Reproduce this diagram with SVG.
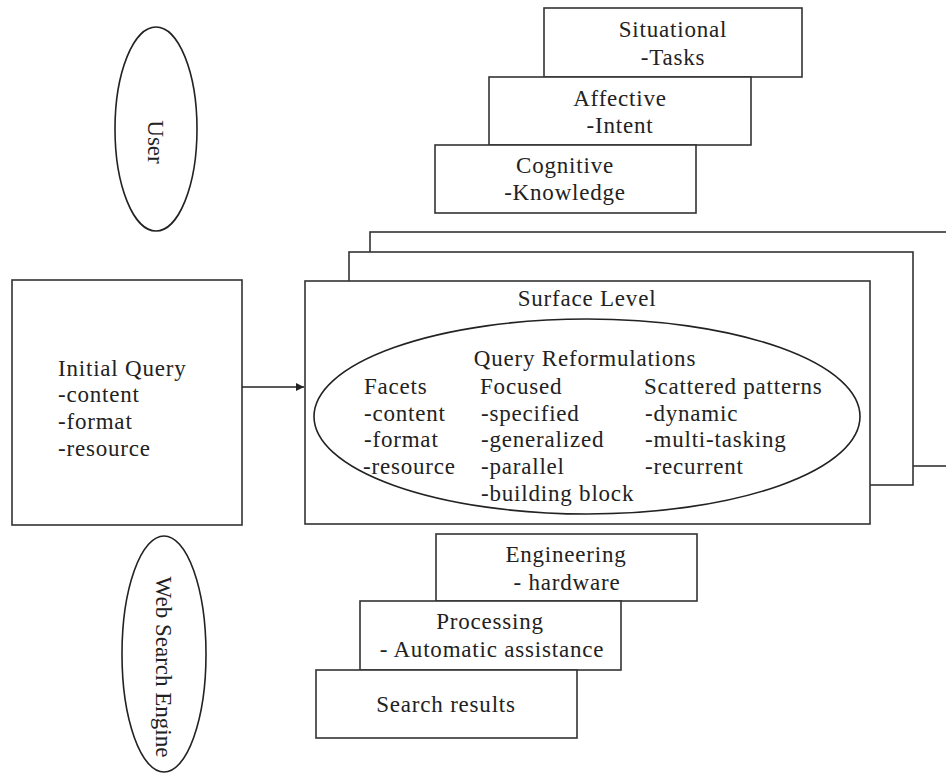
<svg xmlns="http://www.w3.org/2000/svg" width="946" height="773" viewBox="0 0 946 773">
<defs>
<style>
.box{fill:#fff;stroke:#333;stroke-width:1.6}
.ell{fill:none;stroke:#222;stroke-width:1.6}
.t{font-family:"Liberation Serif","Times New Roman",serif;font-size:23px;fill:#222;letter-spacing:0.8px}
.c{text-anchor:middle}
.v{font-family:"Liberation Serif","Times New Roman",serif;font-size:23px;fill:#222;text-anchor:middle}
.conn{stroke:#222;stroke-width:1.6;fill:none}
</style>
<marker id="arr" viewBox="0 0 10 10" refX="10" refY="5" markerWidth="10" markerHeight="8" markerUnits="userSpaceOnUse" orient="auto">
<path d="M0,0 L10,5 L0,10 z" fill="#222"/>
</marker>
</defs>
<rect width="946" height="773" fill="#fff"/>

<g id="user">
<ellipse class="ell" cx="156" cy="129" rx="41" ry="102"/>
<text class="v" transform="translate(148,142) rotate(90)">User</text>
</g>

<g id="situational">
<rect class="box" x="544" y="8" width="258" height="69"/>
<text class="t c" x="673" y="37">Situational</text>
<text class="t c" x="673" y="65">-Tasks</text>
</g>
<g id="affective">
<rect class="box" x="489" y="77" width="262" height="68"/>
<text class="t c" x="620" y="106">Affective</text>
<text class="t c" x="620" y="133">-Intent</text>
</g>
<g id="cognitive">
<rect class="box" x="435" y="145" width="261" height="68"/>
<text class="t c" x="565" y="173">Cognitive</text>
<text class="t c" x="565" y="200">-Knowledge</text>
</g>

<g id="initial-query">
<rect class="box" x="12" y="280" width="230" height="245"/>
<text class="t" x="58" y="376">Initial Query</text>
<text class="t" x="58" y="402">-content</text>
<text class="t" x="58" y="429">-format</text>
<text class="t" x="58" y="456">-resource</text>
</g>

<g id="back-layer-2">
<rect class="box" x="370" y="232" width="600" height="234"/>
</g>
<g id="back-layer-1">
<rect class="box" x="349" y="252" width="564" height="233"/>
</g>
<g id="surface-level">
<rect class="box" x="305" y="281" width="565" height="243"/>
<text class="t c" x="587" y="306">Surface Level</text>
<ellipse class="ell" cx="587" cy="416.5" rx="273" ry="97.5"/>
<text class="t c" x="585" y="366">Query Reformulations</text>
<text class="t" x="364" y="394">Facets</text>
<text class="t" x="364" y="421">-content</text>
<text class="t" x="364" y="447">-format</text>
<text class="t" x="363" y="474">-resource</text>
<text class="t" x="480" y="394">Focused</text>
<text class="t" x="481" y="421">-specified</text>
<text class="t" x="481" y="447">-generalized</text>
<text class="t" x="481" y="474">-parallel</text>
<text class="t" x="481" y="501">-building block</text>
<text class="t" x="644" y="394">Scattered patterns</text>
<text class="t" x="645" y="421">-dynamic</text>
<text class="t" x="645" y="447">-multi-tasking</text>
<text class="t" x="645" y="474">-recurrent</text>
</g>

<g id="engineering">
<rect class="box" x="436" y="534" width="261" height="67"/>
<text class="t c" x="566" y="562">Engineering</text>
<text class="t c" x="567" y="590">- hardware</text>
</g>
<g id="processing">
<rect class="box" x="360" y="601" width="261" height="69"/>
<text class="t c" x="490" y="629">Processing</text>
<text class="t c" x="492" y="657">- Automatic assistance</text>
</g>
<g id="search-results">
<rect class="box" x="316" y="670" width="261" height="68"/>
<text class="t c" x="446" y="712">Search results</text>
</g>

<g id="web-search-engine">
<ellipse class="ell" cx="164" cy="654" rx="42" ry="118"/>
<text class="v" transform="translate(156,667) rotate(90)">Web Search Engine</text>
</g>

<g id="connectors">
<line class="conn" x1="242" y1="387" x2="304" y2="387" marker-end="url(#arr)"/>
</g>
</svg>
